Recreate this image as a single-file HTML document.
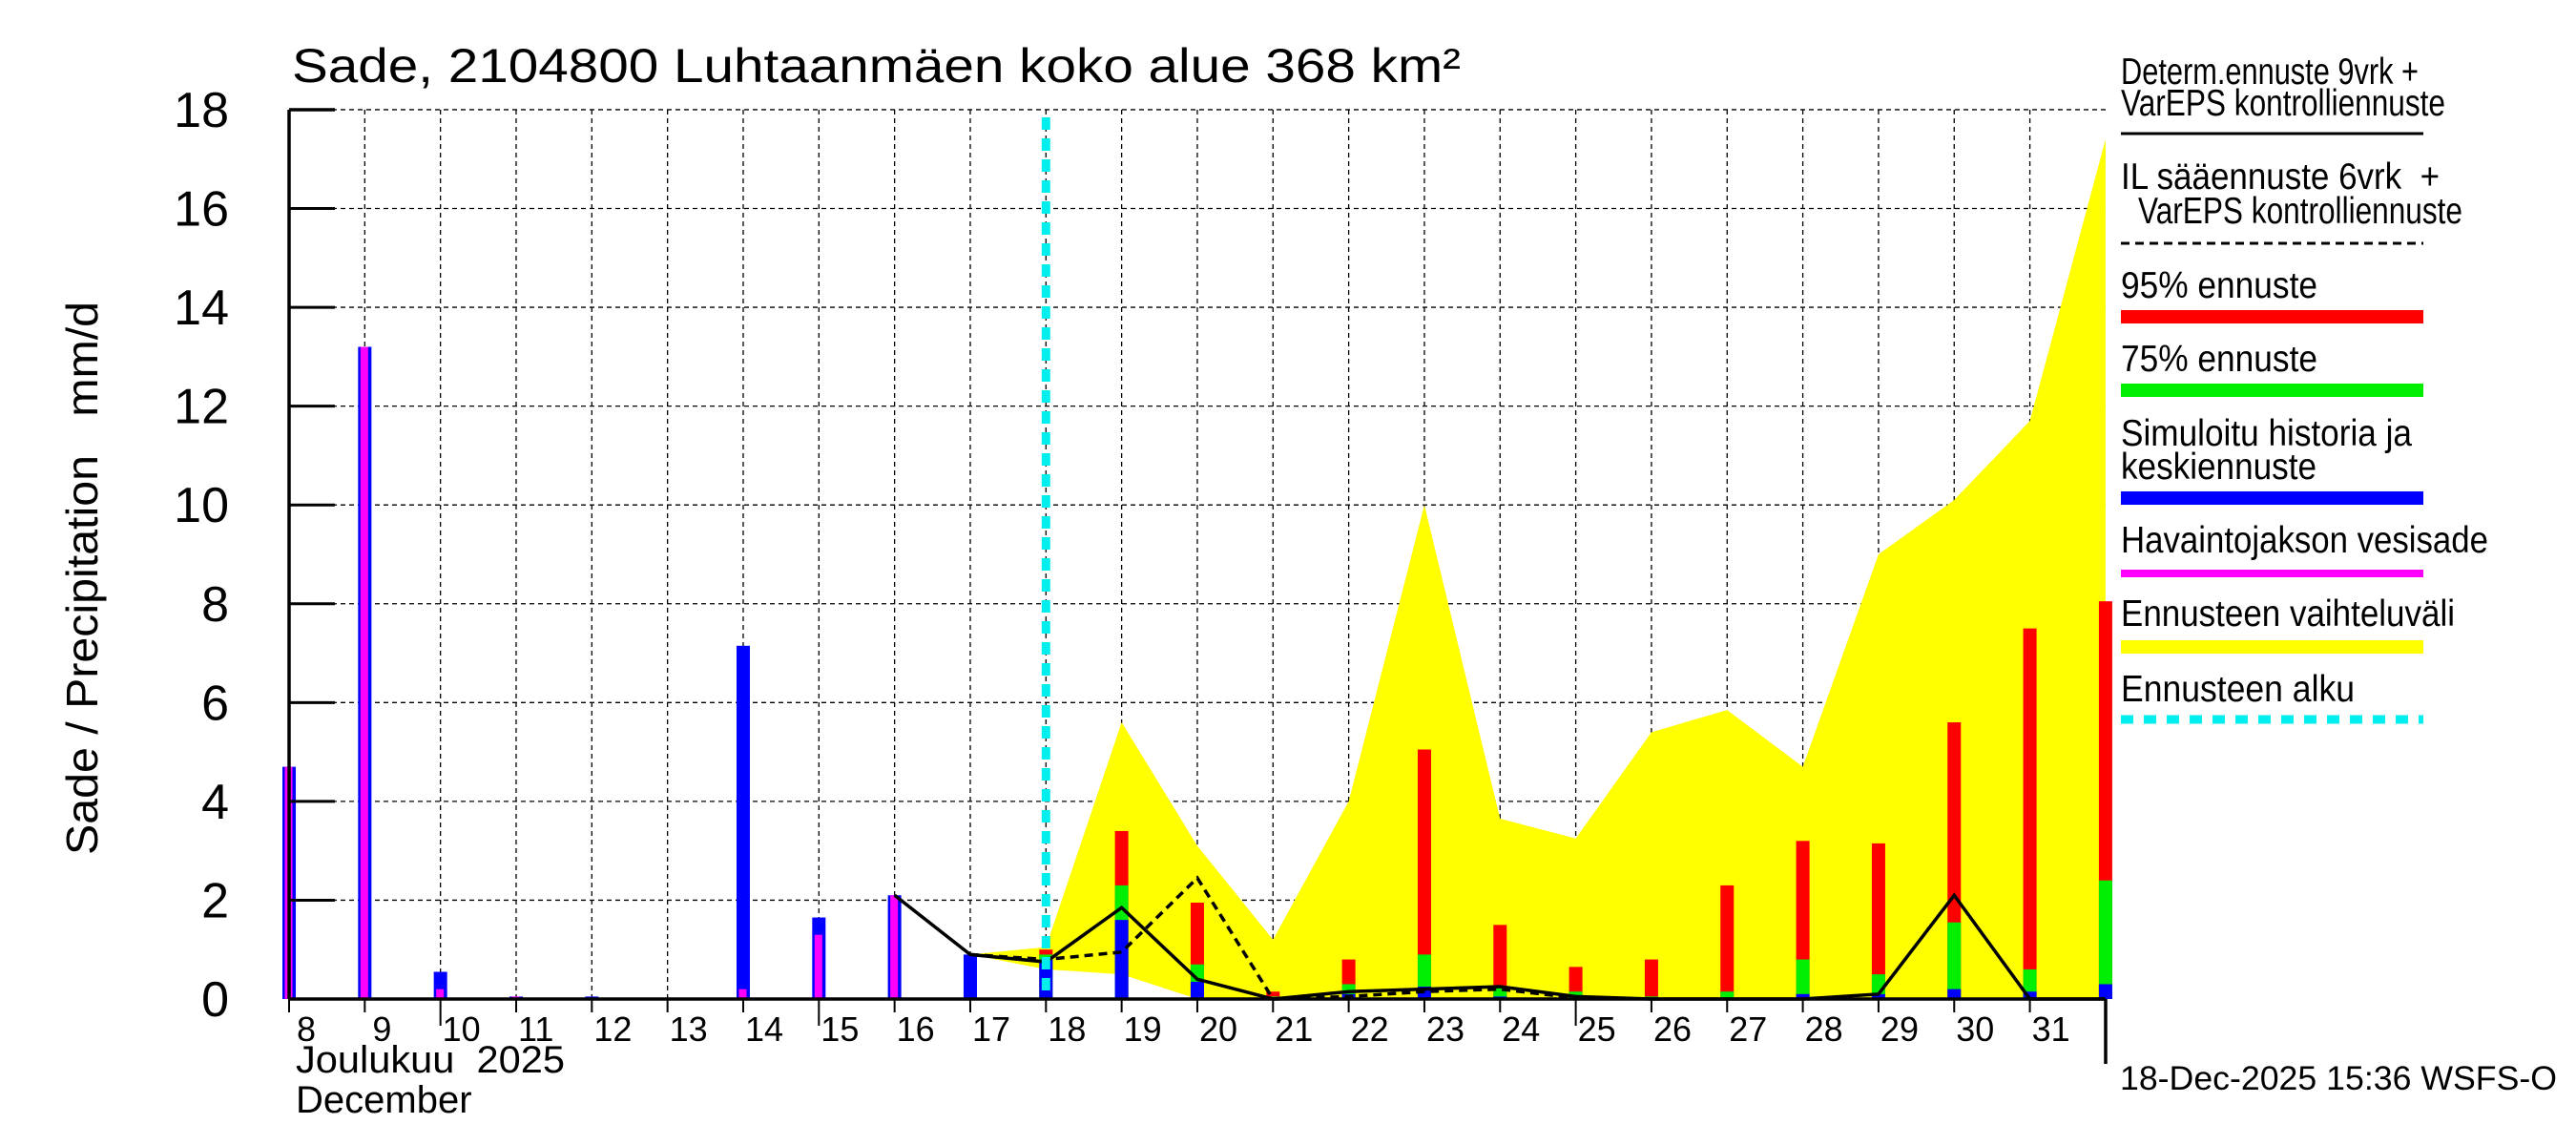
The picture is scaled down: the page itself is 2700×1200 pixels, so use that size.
<!DOCTYPE html>
<html><head><meta charset="utf-8"><style>
html,body{margin:0;padding:0;background:#fff;}
svg{display:block;font-family:"Liberation Sans",sans-serif;}
</style></head><body>
<svg id="chart" width="2700" height="1200" viewBox="0 0 2700 1200" xmlns="http://www.w3.org/2000/svg">
<rect width="2700" height="1200" fill="#fff"/>
<text x="306" y="86" font-size="50" textLength="1225" lengthAdjust="spacingAndGlyphs">Sade, 2104800 Luhtaanmäen koko alue 368 km²</text>
<text transform="translate(102,606) rotate(-90)" text-anchor="middle" font-size="46" textLength="580" lengthAdjust="spacingAndGlyphs" xml:space="preserve">Sade / Precipitation   mm/d</text>
<g id="grid"></g>
<g id="marks"></g>
<g id="axes"></g>
<text x="310" y="1124" font-size="40" xml:space="preserve" textLength="282" lengthAdjust="spacingAndGlyphs">Joulukuu  2025</text>
<text x="310" y="1166" font-size="40">December</text>
<text x="2222" y="1142" font-size="35" textLength="458" lengthAdjust="spacingAndGlyphs">18-Dec-2025 15:36 WSFS-O</text>
<g font-size="39">
<text x="2223" y="88" textLength="312" lengthAdjust="spacingAndGlyphs">Determ.ennuste 9vrk +</text>
<text x="2223" y="121" textLength="340" lengthAdjust="spacingAndGlyphs">VarEPS kontrolliennuste</text>
<line x1="2223" y1="140" x2="2540" y2="140" stroke="#000" stroke-width="3"/>
<text x="2223" y="198" textLength="334" lengthAdjust="spacingAndGlyphs" xml:space="preserve">IL sääennuste 6vrk  +</text>
<text x="2241" y="234" textLength="340" lengthAdjust="spacingAndGlyphs">VarEPS kontrolliennuste</text>
<line x1="2223" y1="255" x2="2540" y2="255" stroke="#000" stroke-width="3" stroke-dasharray="9,6"/>
<text x="2223" y="312" textLength="206" lengthAdjust="spacingAndGlyphs">95% ennuste</text>
<rect x="2223" y="325" width="317" height="14" fill="#f00"/>
<text x="2223" y="389" textLength="206" lengthAdjust="spacingAndGlyphs">75% ennuste</text>
<rect x="2223" y="402" width="317" height="14" fill="#0e0"/>
<text x="2223" y="467" textLength="305" lengthAdjust="spacingAndGlyphs">Simuloitu historia ja</text>
<text x="2223" y="502" textLength="205" lengthAdjust="spacingAndGlyphs">keskiennuste</text>
<rect x="2223" y="515" width="317" height="14" fill="#00f"/>
<text x="2223" y="579" textLength="385" lengthAdjust="spacingAndGlyphs">Havaintojakson vesisade</text>
<rect x="2223" y="597" width="317" height="8" fill="#f0f"/>
<text x="2223" y="656" textLength="350" lengthAdjust="spacingAndGlyphs">Ennusteen vaihteluväli</text>
<rect x="2223" y="671" width="317" height="14" fill="#ff0"/>
<text x="2223" y="735" textLength="245" lengthAdjust="spacingAndGlyphs">Ennusteen alku</text>
<line x1="2223" y1="754" x2="2540" y2="754" stroke="#0ee" stroke-width="9" stroke-dasharray="13,11"/>
</g>
</svg>
<script>
const NS='http://www.w3.org/2000/svg';
const dayTicks=[8,9,10,11,12,13,14,15,16,17,18,19,20,21,22,23,24,25,26,27,28,29,30,31];
const yTicks=[0,2,4,6,8,10,12,14,16,18];
const obsDays=[8,9,10,11,12,13,14,15,16,17];
const obsSim=[4.7,13.2,0.55,0.05,0.05,0,7.15,1.65,2.1,0.9];
const obsMeas=[4.7,13.2,0.2,0.05,0,0,0.2,1.3,2.1,0];
const fcDays=[18,19,20,21,22,23,24,25,26,27,28,29,30,31,32];
const fc95=[1.0,3.4,1.95,0.15,0.8,5.05,1.5,0.65,0.8,2.3,3.2,3.15,5.6,7.5,8.05];
const fc75=[0.9,2.3,0.7,0.05,0.3,0.9,0.25,0.15,0.05,0.15,0.8,0.5,1.55,0.6,2.4];
const fcMed=[0.8,1.6,0.35,0.02,0.1,0.25,0.05,0.02,0,0,0.1,0.1,0.2,0.15,0.3];
const rangeDays=[17,18,19,20,21,22,23,24,25,26,27,28,29,30,31,32];
const rangeHigh=[0.9,1.05,5.6,3.1,1.2,4.0,10.0,3.65,3.25,5.4,5.85,4.7,9.0,10.1,11.7,17.4];
const rangeLow=[0.9,0.6,0.5,0,0,0,0,0,0,0,0,0,0,0,0,0];
const detDays=[16,17,18,19,20,21,22,23,24,25,26,27,28,29,30,31,32];
const detVals=[2.1,0.9,0.75,1.85,0.4,0,0.15,0.2,0.25,0.05,0,0,0,0.1,2.1,0,0];
const ilDays=[17,18,19,20,21,22,23,24,25];
const ilVals=[0.9,0.8,0.95,2.45,0,0.05,0.15,0.2,0.02];
const forecastStart=18;

const X0=303,DX=79.33,Y0=1047,YK=51.78,XR=2207,YT=115;
const x=d=>X0+(d-8)*DX;
const y=v=>Y0-v*YK;
function mk(tag,attrs,parent){const e=document.createElementNS(NS,tag);for(const k in attrs)e.setAttribute(k,attrs[k]);parent.appendChild(e);return e;}
const grid=document.getElementById('grid'),marks=document.getElementById('marks'),axes=document.getElementById('axes');

dayTicks.forEach((d,i)=>{if(i===0)return;
 const l=mk('line',{x1:x(d),y1:YT,x2:x(d),y2:Y0,stroke:'#000','stroke-width':1.3,'stroke-dasharray':'5,4'},grid);
 
 });
yTicks.forEach(v=>{if(v===0)return;
 const l=mk('line',{x1:X0,y1:y(v),x2:XR,y2:y(v),stroke:'#000','stroke-width':1.3,'stroke-dasharray':'5,4'},grid);
 
 
 const t=mk('line',{x1:X0,y1:y(v),x2:X0+48,y2:y(v),stroke:'#000','stroke-width':3},axes);
 
 });
yTicks.forEach(v=>{
 const t=mk('text',{x:240,y:y(v)+18,'text-anchor':'end','font-size':52},axes);
 t.textContent=v;
 
 });

let pts=rangeDays.map((d,i)=>x(d)+','+y(rangeHigh[i]));
for(let i=rangeDays.length-1;i>=0;i--)pts.push(x(rangeDays[i])+','+y(rangeLow[i]));
const band=mk('polygon',{points:pts.join(' '),fill:'#ff0'},marks);



const BW=14;
obsDays.forEach((d,i)=>{
 if(obsSim[i]>0){const b=mk('rect',{x:x(d)-BW/2,y:y(obsSim[i]),width:BW,height:obsSim[i]*YK,fill:'#00f'},marks);
 
 }
 if(obsMeas[i]>0){const m=mk('rect',{x:x(d)-4.5,y:y(obsMeas[i]),width:8,height:obsMeas[i]*YK,fill:'#f0f'},marks);
 
 }
});
fcDays.forEach((d,i)=>{
 [[fc95[i],'#f00','bar-95-day-'],[fc75[i],'#0e0','bar-75-day-'],[fcMed[i],'#00f','bar-median-day-']].forEach(([v,c,n])=>{
  if(v<=0)return;
  const r=mk('rect',{x:x(d)-BW/2,y:y(v),width:BW,height:v*YK,fill:c},marks);
  
  
 });
});
const det=mk('polyline',{points:detDays.map((d,i)=>x(d)+','+y(detVals[i])).join(' '),fill:'none',stroke:'#000','stroke-width':3.5},marks);


const il=mk('polyline',{points:ilDays.map((d,i)=>x(d)+','+y(ilVals[i])).join(' '),fill:'none',stroke:'#000','stroke-width':3.5,'stroke-dasharray':'9,6'},marks);


const cy=mk('line',{x1:x(forecastStart),y1:YT+8,x2:x(forecastStart),y2:Y0,stroke:'#0ee','stroke-width':9,'stroke-dasharray':'13,9'},marks);



[[X0,YT,X0,Y0],[X0,Y0,XR,Y0],[XR,Y0,XR,1115],[X0,YT,X0+48,YT]].forEach(a=>{
 const l=mk('line',{x1:a[0],y1:a[1],x2:a[2],y2:a[3],stroke:'#000','stroke-width':3.5},axes);
 
 });
dayTicks.forEach(d=>{
 const long=(d===10||d===15||d===25);
 const t=mk('line',{x1:x(d),y1:Y0,x2:x(d),y2:Y0+(long?28:14),stroke:'#000','stroke-width':2},axes);
 
 
 const lb=mk('text',{x:x(d)+(d>=10?2:8),y:1091,'font-size':36},axes);
 lb.textContent=d;
 
 
});
</script>
</body></html>
